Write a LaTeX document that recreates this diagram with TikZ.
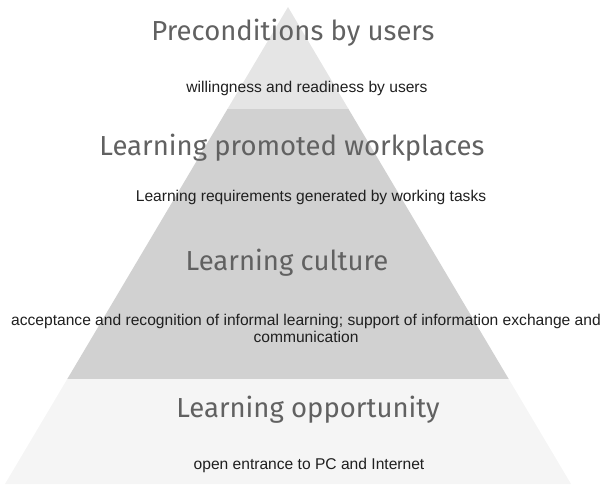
\documentclass[tikz,border=0pt]{standalone}
\usepackage{fontspec}
\setmainfont{Liberation Sans}
\newfontfamily\headfont{Fira Sans}
\usepackage{tikz}

\begin{document}
\begin{tikzpicture}[x=1pt, y=-1pt,
    heading/.style={font=\headfont\fontsize{27.5}{32}\selectfont, text=black!62},
    remark/.style={font=\fontsize{15.6}{17}\selectfont, text=black!88, align=center}]
        \useasboundingbox (0, 0) rectangle (608, 486);
        % layers of the pyramid
        \fill[black!4] (5, 484) -- (571, 484) -- (508.7, 379) -- (67.3, 379) -- cycle;
        \fill[black!18] (67.3, 379) -- (508.7, 379) -- (348.5, 109) -- (227.5, 109) -- cycle;
        \fill[black!10] (227.5, 109) -- (348.5, 109) -- (288, 7) -- cycle;
        % texts
        \node[heading] (users) at (293, 33) {Preconditions by users};
        \node[remark] (willing) at (307, 88) {willingness and readiness by users};
        \node[heading] (workplaces) at (292, 148) {Learning promoted workplaces};
        \node[remark] (tasks) at (311, 197) {Learning requirements generated by working tasks};
        \node[heading] (culture) at (287, 263) {Learning culture};
        \node[remark] (informal) at (306, 328) {acceptance and recognition of informal learning; support of information exchange and\\communication};
        \node[heading] (opportunity) at (308, 410) {Learning opportunity};
        \node[remark] (entrance) at (309, 465) {open entrance to PC and Internet};
      \end{tikzpicture}
\end{document}
